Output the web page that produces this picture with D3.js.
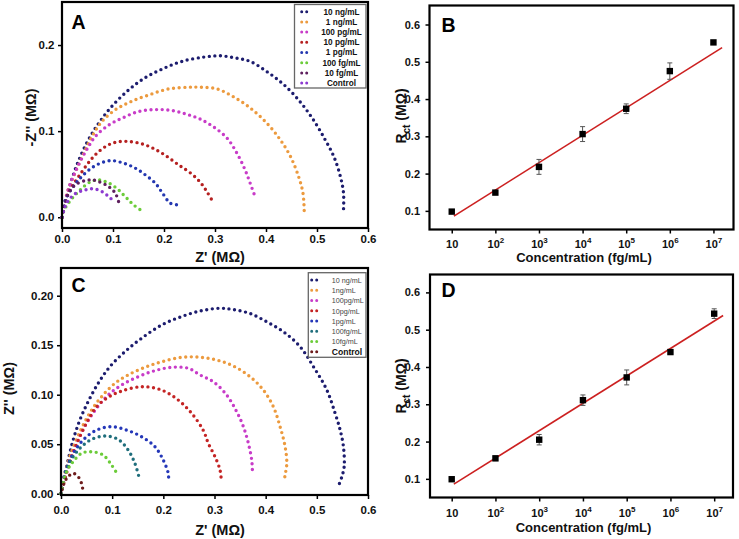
<!DOCTYPE html>
<html><head><meta charset="utf-8">
<script src="https://cdn.jsdelivr.net/npm/d3@7"></script>
<style>body{margin:0;background:#fff} text{font-family:"Liberation Sans",Arial,sans-serif}</style>
</head><body><svg id="c" width="739" height="539"></svg>
<script>
// ---------- DATA ----------
// Panel A Nyquist series (Z', -Z'') in MΩ
const labelsA = ["10 ng/mL","1 ng/mL","100 pg/mL","10 pg/mL","1 pg/mL","100 fg/mL","10 fg/mL","Control"];
const A_10ng = [[0,0],[0.005,0.014],[0.015,0.036],[0.03,0.062],[0.05,0.088],[0.0705,0.108],[0.095,0.127],[0.127,0.146],[0.16,0.161],[0.196,0.172],[0.235,0.181],[0.278,0.186],[0.31,0.1875],[0.34,0.185],[0.369,0.181],[0.402,0.169],[0.435,0.154],[0.467,0.134],[0.493,0.113],[0.516,0.09],[0.533,0.0705],[0.546,0.047],[0.552,0.028],[0.552,0.009]];
const A_1ng = [[0,0],[0.004,0.012],[0.0098,0.028],[0.0196,0.043],[0.0326,0.061],[0.0457,0.078],[0.059,0.094],[0.078,0.111],[0.1045,0.1248],[0.134,0.134],[0.17,0.142],[0.209,0.149],[0.248,0.151],[0.271,0.151],[0.304,0.149],[0.336,0.14],[0.369,0.127],[0.402,0.109],[0.428,0.09],[0.448,0.0705],[0.464,0.047],[0.4725,0.028],[0.475,0.0065]];
const A_100pg = [[0,0],[0.004,0.011],[0.0098,0.027],[0.0196,0.044],[0.0326,0.061],[0.049,0.079],[0.0653,0.0937],[0.0914,0.107],[0.1176,0.115],[0.15,0.1228],[0.183,0.125],[0.2157,0.124],[0.245,0.1195],[0.271,0.114],[0.297,0.105],[0.3235,0.092],[0.343,0.0744],[0.359,0.055],[0.369,0.0395],[0.38,0.0215]];
const A_10pg = [[0,0],[0.004,0.01],[0.0098,0.024],[0.0196,0.0356],[0.0326,0.0472],[0.049,0.061],[0.065,0.0724],[0.085,0.082],[0.1045,0.087],[0.1306,0.088],[0.1633,0.084],[0.196,0.0744],[0.2287,0.0608],[0.2549,0.05],[0.272,0.04],[0.284,0.0298],[0.293,0.021]];
const A_1pg = [[0,0],[0.003,0.01],[0.0065,0.02],[0.0196,0.0337],[0.0326,0.0434],[0.049,0.053],[0.0686,0.061],[0.0947,0.0658],[0.1208,0.0628],[0.1437,0.057],[0.1633,0.0492],[0.183,0.0395],[0.196,0.029],[0.2124,0.0163],[0.2255,0.0145]];
const A_100fg = [[0,0],[0.004,0.008],[0.0098,0.014],[0.0228,0.024],[0.0359,0.0317],[0.049,0.0387],[0.062,0.0426],[0.0719,0.0434],[0.085,0.0414],[0.098,0.0376],[0.111,0.0317],[0.1208,0.0259],[0.1306,0.0201],[0.1404,0.0143],[0.157,0.0073]];
const A_10fg = [[0,0],[0.004,0.01],[0.013,0.028],[0.026,0.0376],[0.0457,0.0426],[0.059,0.0434],[0.0719,0.0414],[0.0914,0.0356],[0.1045,0.028],[0.111,0.018]];
const A_control = [[0,0],[0.004,0.009],[0.012,0.019],[0.025,0.027],[0.0457,0.0317],[0.062,0.033],[0.0784,0.0298],[0.0914,0.024],[0.1,0.0195]];
const seriesA = [A_10ng,A_1ng,A_100pg,A_10pg,A_1pg,A_100fg,A_10fg,A_control];
const colorsA = ["#1c1c6e","#ec9a3e","#c83cc8","#b52020","#2437b0","#6ccc3a","#5e1f5e","#8c3ad0"];

// Panel C Nyquist series (Z', Z'') in MΩ
const labelsC = ["10 ng/mL","1ng/mL","100pg/mL","10pg/mL","1pg/mL","100fg/mL","10fg/mL","Control"];
const C_10ng = [[0,0],[0.002,0.005],[0.006,0.0138],[0.0139,0.034],[0.0237,0.0542],[0.0368,0.0744],[0.053,0.093],[0.0726,0.1115],[0.0955,0.1283],[0.1249,0.1434],[0.1575,0.157],[0.1967,0.1704],[0.2358,0.179],[0.275,0.1849],[0.3108,0.1873],[0.3368,0.186],[0.3695,0.182],[0.402,0.1737],[0.4347,0.1636],[0.4673,0.1485],[0.4934,0.1283],[0.5196,0.1047],[0.5358,0.0812],[0.5456,0.0643],[0.552,0.0475],[0.5534,0.0273],[0.5489,0.0172],[0.543,0.0088]];
const C_1ng = [[0,0],[0.0041,0.0138],[0.0139,0.0323],[0.027,0.0509],[0.0433,0.0694],[0.0597,0.0845],[0.0793,0.098],[0.1053,0.1115],[0.1313,0.12],[0.164,0.1277],[0.1967,0.1333],[0.2358,0.1378],[0.2716,0.1378],[0.3043,0.135],[0.3368,0.129],[0.3695,0.1182],[0.3955,0.1047],[0.415,0.0879],[0.4282,0.0677],[0.438,0.0475],[0.4413,0.0307],[0.438,0.0189],[0.436,0.0128]];
const C_100pg = [[0,0],[0.0074,0.0172],[0.0205,0.0374],[0.0335,0.0542],[0.0499,0.0711],[0.0695,0.0863],[0.0921,0.0997],[0.1184,0.1098],[0.1509,0.1182],[0.1836,0.1243],[0.2162,0.1277],[0.2488,0.1267],[0.2716,0.12],[0.2977,0.1131],[0.3238,0.0997],[0.3434,0.0828],[0.3565,0.0677],[0.3662,0.0509],[0.3727,0.034],[0.374,0.0245]];
const C_10pg = [[0,0],[0.0108,0.0206],[0.0237,0.0408],[0.0368,0.0576],[0.053,0.0744],[0.0695,0.0879],[0.0921,0.0974],[0.1184,0.1037],[0.1588,0.1081],[0.1967,0.1047],[0.2292,0.0946],[0.2553,0.0812],[0.2781,0.064],[0.2879,0.0509],[0.301,0.0374],[0.3108,0.0239],[0.3135,0.0121]];
const C_1pg = [[0,0],[0.0074,0.0206],[0.0172,0.034],[0.0303,0.0459],[0.0466,0.056],[0.0695,0.0643],[0.0988,0.0677],[0.1282,0.0643],[0.1575,0.0576],[0.1836,0.0475],[0.1998,0.034],[0.2096,0.0206],[0.2103,0.0118]];
const C_100fg = [[0,0],[0.0108,0.0239],[0.0237,0.0374],[0.0401,0.0475],[0.0597,0.0549],[0.0857,0.0583],[0.1117,0.0549],[0.1313,0.0441],[0.1444,0.0307],[0.1542,0.0133]];
const C_10fg = [[0,0],[0.0108,0.0222],[0.0237,0.0323],[0.0401,0.0408],[0.0597,0.0424],[0.0824,0.0391],[0.0988,0.029],[0.1112,0.0189]];
const C_control = [[0.002,0.004],[0.007,0.012],[0.0139,0.0172],[0.0237,0.0206],[0.0335,0.0172],[0.0401,0.0105],[0.0433,0.002]];
const seriesC = [C_10ng,C_1ng,C_100pg,C_10pg,C_1pg,C_100fg,C_10fg,C_control];
const colorsC = ["#1c1c6e","#ec9a3e","#c83cc8","#c42424","#2437b8","#1f6e7c","#6ccc3a","#6e1c1c"];

// Panels B and D calibration (Rct vs concentration)
const conc = [1e1,1e2,1e3,1e4,1e5,1e6,1e7];
const concExp = [1,2,3,4,5,6,7];
const rctB = [0.098,0.149,0.218,0.306,0.374,0.475,0.552];
const errB = [0.003,0.004,0.02,0.02,0.013,0.022,0.004];
const fitB = [[11.2,0.086],[1.58e7,0.538]];
const rctD = [0.099,0.155,0.205,0.311,0.372,0.440,0.543];
const errD = [0.003,0.006,0.014,0.014,0.02,0.004,0.013];
const fitD = [[11.2,0.0857],[1.6e7,0.538]];

const ticksNyqX = [0,0.1,0.2,0.3,0.4,0.5,0.6];
const ticksAY = [0,0.1,0.2];
const ticksCY = [0,0.05,0.10,0.15,0.20];
const ticksRct = [0.1,0.2,0.3,0.4,0.5,0.6];

// ---------- DRAW ----------
const svg = d3.select("#c");
svg.append("rect").attr("width",739).attr("height",539).attr("fill","#fff");
const FONT = '"Liberation Sans",Arial,sans-serif';

function styleAxis(g, size){
  g.select(".domain").remove();
  g.selectAll(".tick line").attr("stroke","#000").attr("stroke-width",1.5);
  g.selectAll(".tick text").attr("font-family",FONT).attr("font-weight","bold").attr("font-size",size).attr("fill","#111");
}

function frame(f){
  svg.append("rect").attr("x",f.l).attr("y",f.t).attr("width",f.r-f.l).attr("height",f.b-f.t)
    .attr("fill","none").attr("stroke","#000").attr("stroke-width",2.2);
}

function title(x,y,rot,size){
  return svg.append("text").attr("font-family",FONT).attr("font-weight","bold").attr("font-size",size||14.5)
    .attr("text-anchor","middle").attr("fill","#111")
    .attr("transform",`translate(${x},${y})`+(rot?" rotate(-90)":""));
}

function panelLetter(x,y,l){
  svg.append("text").attr("x",x).attr("y",y).attr("font-family",FONT).attr("font-weight","bold")
    .attr("font-size",19.5).attr("fill","#000").text(l);
}

function nyquist(p){
  const x = d3.scaleLinear().domain(p.xd).range([p.f.l,p.f.r]);
  const y = d3.scaleLinear().domain(p.yd).range([p.f.b,p.f.t]);
  const gx = svg.append("g").attr("transform",`translate(0,${p.f.b})`)
    .call(d3.axisBottom(x).tickValues(ticksNyqX).tickFormat(d3.format(".1f")).tickSize(4).tickPadding(p.xpad));
  styleAxis(gx,11.5);
  const gy = svg.append("g").attr("transform",`translate(${p.f.l},0)`)
    .call(d3.axisLeft(y).tickValues(p.yt).tickFormat(d3.format(p.yf)).tickSize(4).tickPadding(p.ypad));
  styleAxis(gy,11.5);
  const line = d3.line().x(d=>x(d[0])).y(d=>y(d[1])).curve(d3.curveCatmullRom.alpha(0.5));
  p.series.forEach((s,i)=>{
    svg.append("path").attr("d",line(s)).attr("fill","none").attr("stroke",p.colors[i])
      .attr("stroke-width",3.4).attr("stroke-linecap","round").attr("stroke-dasharray","0 5.6");
  });
  frame(p.f);
  // legend
  const L = p.leg;
  svg.append("rect").attr("x",L.x0).attr("y",L.y0).attr("width",L.x1-L.x0).attr("height",L.y1-L.y0)
    .attr("fill","#fff").attr("stroke","#666").attr("stroke-width",1.3);
  p.labels.forEach((lab,i)=>{
    const cy = L.row0 + i*L.step;
    svg.append("path").attr("d",`M${L.dx},${cy}H${L.dx+10}`).attr("stroke",p.colors[i]).attr("stroke-width",3)
      .attr("stroke-linecap","round").attr("stroke-dasharray","0 5").attr("fill","none");
    const big = L.ctrlBold && lab==="Control";
    svg.append("text").attr("x",L.tx).attr("y",cy+(big?3.3:2.8)).attr("text-anchor",L.anchor)
      .attr("font-family",FONT).attr("font-weight",(L.bold||big)?"bold":"normal")
      .attr("font-size",big?8.6:L.fs).attr("fill",L.tc&&!big?L.tc:"#111").text(lab);
  });
}

function calib(p){
  const x = d3.scaleLog().domain(p.xd).range([p.f.l,p.f.r]);
  const y = d3.scaleLinear().domain(p.yd).range([p.f.b,p.f.t]);
  const gx = svg.append("g").attr("transform",`translate(0,${p.f.b})`)
    .call(d3.axisBottom(x).tickValues(conc).tickFormat("").tickSize(4));
  styleAxis(gx,11);
  gx.selectAll(".tick").each(function(d,i){
    const t = d3.select(this).append("text").attr("y",p.xlab).attr("text-anchor","middle")
      .attr("font-family",FONT).attr("font-weight","bold").attr("font-size",11).attr("fill","#111");
    t.append("tspan").text("10");
    if(concExp[i]>1) t.append("tspan").attr("dy",-5).attr("font-size",8).text(concExp[i]);
  });
  const gy = svg.append("g").attr("transform",`translate(${p.f.l},0)`)
    .call(d3.axisLeft(y).tickValues(ticksRct).tickFormat(d3.format(".1f")).tickSize(4).tickPadding(p.ypad));
  styleAxis(gy,11);
  svg.append("path").attr("d",d3.line().x(d=>x(d[0])).y(d=>y(d[1]))(p.fit))
    .attr("stroke","#cc2020").attr("stroke-width",1.6).attr("fill","none");
  conc.forEach((c,i)=>{
    const cx = x(c), y1 = y(p.v[i]+p.e[i]), y2 = y(p.v[i]-p.e[i]);
    svg.append("path").attr("d",`M${cx},${y1}V${y2}M${cx-2.5},${y1}H${cx+2.5}M${cx-2.5},${y2}H${cx+2.5}`)
      .attr("stroke","#555").attr("stroke-width",1).attr("fill","none");
  });
  svg.selectAll(null).data(conc).enter().append("rect")
    .attr("x",(d)=>x(d)-3.2).attr("y",(d,i)=>y(p.v[i])-3.2).attr("width",6.4).attr("height",6.4).attr("fill","#000");
  frame(p.f);
}

function rctTitle(x,y){
  const t = title(x,y,true,14);
  t.append("tspan").text("R");
  t.append("tspan").attr("font-size",10).attr("dy",4).text("ct");
  t.append("tspan").attr("dy",-4).text(" (MΩ)");
}

// Panel A
nyquist({f:{l:62,r:368,t:2,b:228}, xd:[0,0.6], yd:[-0.0125,0.25], yt:ticksAY, yf:".1f", xpad:3, ypad:3.5,
  series:seriesA, colors:colorsA, labels:labelsA,
  leg:{x0:294.5,y0:4.5,x1:366,y1:88,row0:11.7,step:10.2,dx:301.7,tx:341.5,anchor:"middle",fs:8.2,bold:true}});
title(220,261.5).text("Z' (MΩ)");
title(35.5,117.5,true).text("-Z'' (MΩ)");
panelLetter(71.5,28.5,"A");

// Panel C
nyquist({f:{l:61,r:368,t:268,b:495}, xd:[0,0.6], yd:[-0.0013,0.228], yt:ticksCY, yf:".2f", xpad:6.5, ypad:3.5,
  series:seriesC, colors:colorsC, labels:labelsC,
  leg:{x0:308.3,y0:272.7,x1:366,y1:357.3,row0:280,step:10.25,dx:311.7,tx:331.7,anchor:"start",fs:7.2,bold:false,tc:"#444",ctrlBold:true}});
title(220,535).text("Z' (MΩ)");
title(13.5,388.5,true).text("Z'' (MΩ)");
panelLetter(71.5,291.5,"C");

// Panel B
calib({f:{l:429.5,r:733.5,t:5.5,b:229.5}, xd:[Math.pow(10,0.49),Math.pow(10,7.46)], yd:[0.05,0.651], ypad:5.5, xlab:18.5,
  v:rctB, e:errB, fit:fitB});
title(584,262,false,13).text("Concentration (fg/mL)");
rctTitle(406,116);
panelLetter(441.5,31.5,"B");

// Panel D
calib({f:{l:430,r:733,t:274.5,b:497.5}, xd:[Math.pow(10,0.504),Math.pow(10,7.43)], yd:[0.05,0.648], ypad:6, xlab:19,
  v:rctD, e:errD, fit:fitD});
title(583.5,532,false,13).text("Concentration (fg/mL)");
rctTitle(406,386);
panelLetter(441.5,296.5,"D");
</script></body></html>
